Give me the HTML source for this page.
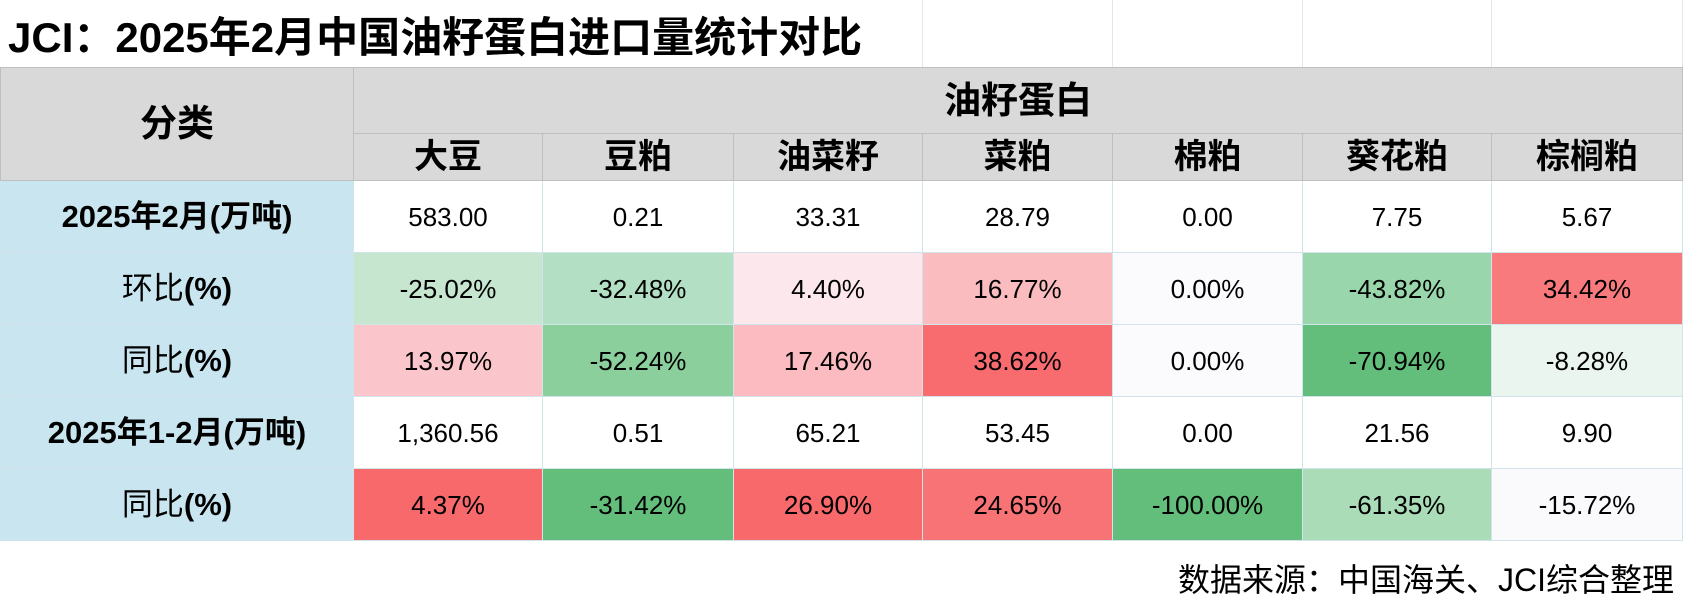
<!DOCTYPE html><html><head><meta charset="utf-8"><style>
body{margin:0;width:1684px;height:614px;background:#fff;font-family:"Liberation Sans","Noto Sans CJK SC",sans-serif;position:relative;overflow:hidden}
.t{position:absolute;left:8px;top:12px;font-size:42px;font-weight:bold;color:#000;line-height:52px;white-space:nowrap}
.g{position:absolute;top:0;height:67px;border-left:1px solid #e6e6e6}
table{position:absolute;left:0;top:67px;border-collapse:collapse;table-layout:fixed}
td{text-align:center;font-size:26px;color:#000;border:1px solid #d0e4ea;padding:0;height:71px;line-height:30px}
.h{background:#d9d9d9;border:1px solid #bfbfbf;font-size:34px;font-weight:bold;height:auto;line-height:38px}
.h.big{font-size:37px}
.l{background:#c9e6f0;font-weight:normal;font-size:31px;line-height:36px}
.b{font-weight:bold}
.f{position:absolute;right:10px;top:560px;font-size:32px;color:#000;line-height:40px;white-space:nowrap}
</style></head><body>
<div class="t">JCI：2025年2月中国油籽蛋白进口量统计对比</div>
<div class="g" style="left:922px"></div><div class="g" style="left:1112px"></div><div class="g" style="left:1302px"></div><div class="g" style="left:1491px"></div><div class="g" style="left:1682px"></div>
<table>
<colgroup><col style="width:353px"><col style="width:189px"><col style="width:191px"><col style="width:189px"><col style="width:190px"><col style="width:190px"><col style="width:189px"><col style="width:191px"></colgroup>
<tr style="height:66px"><td class="h big" rowspan="2">分类</td><td class="h big" colspan="7">油籽蛋白</td></tr>
<tr style="height:47px"><td class="h">大豆</td><td class="h">豆粕</td><td class="h">油菜籽</td><td class="h">菜粕</td><td class="h">棉粕</td><td class="h">葵花粕</td><td class="h">棕榈粕</td></tr>
<tr><td class="l b">2025年2月(万吨)</td><td>583.00</td><td>0.21</td><td>33.31</td><td>28.79</td><td>0.00</td><td>7.75</td><td>5.67</td></tr>
<tr><td class="l">环比<b>(%)</b></td><td style="background:#c6e6d0">-25.02%</td><td style="background:#b3e0c4">-32.48%</td><td style="background:#fce8ec">4.40%</td><td style="background:#fbbcc0">16.77%</td><td style="background:#fbfbfd">0.00%</td><td style="background:#9ad6ab">-43.82%</td><td style="background:#f87a7c">34.42%</td></tr>
<tr><td class="l">同比<b>(%)</b></td><td style="background:#fbc6cb">13.97%</td><td style="background:#8bd09c">-52.24%</td><td style="background:#fbbbc0">17.46%</td><td style="background:#f86b6e">38.62%</td><td style="background:#fbfbfd">0.00%</td><td style="background:#63be7b">-70.94%</td><td style="background:#e9f5ee">-8.28%</td></tr>
<tr><td class="l b">2025年1-2月(万吨)</td><td>1,360.56</td><td>0.51</td><td>65.21</td><td>53.45</td><td>0.00</td><td>21.56</td><td>9.90</td></tr>
<tr><td class="l">同比<b>(%)</b></td><td style="background:#f8696b">4.37%</td><td style="background:#63be7b">-31.42%</td><td style="background:#f8696b">26.90%</td><td style="background:#f87375">24.65%</td><td style="background:#63be7b">-100.00%</td><td style="background:#a9dcb7">-61.35%</td><td style="background:#fafafd">-15.72%</td></tr>
</table>
<div class="f">数据来源：中国海关、JCI综合整理</div>
</body></html>
